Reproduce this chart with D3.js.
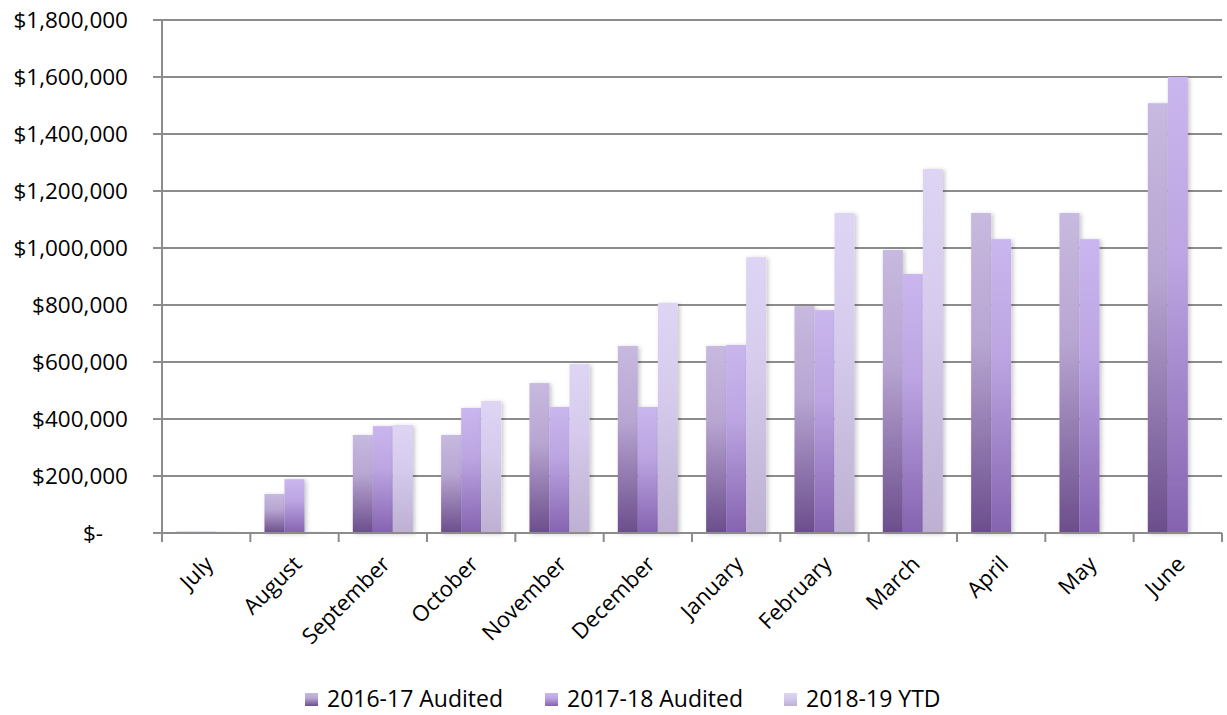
<!DOCTYPE html>
<html>
<head>
<meta charset="utf-8">
<script src="https://cdn.jsdelivr.net/npm/d3@7"></script>
<style>
  html, body { margin: 0; padding: 0; background: #fff; }
  svg { display: block; font-family: "Open Sans", Lato, sans-serif; }
</style>
</head>
<body>
<svg id="chart" width="1227" height="715"></svg>
<script>
const months = ["July","August","September","October","November","December","January","February","March","April","May","June"];
const seriesNames = ["2016-17 Audited","2017-18 Audited","2018-19 YTD"];
const s2016 = [5000, 137000, 344000, 344000, 526000, 656000, 656000, 796000, 993000, 1123000, 1123000, 1508000];
const s2017 = [5000, 189000, 375000, 439000, 442000, 442000, 660000, 782000, 909000, 1031000, 1031000, 1600000];
const s2018 = [4000, 4000, 379000, 463000, 593000, 807000, 968000, 1123000, 1277000, null, null, null];
const yTicks = [0, 200000, 400000, 600000, 800000, 1000000, 1200000, 1400000, 1600000, 1800000];

const allSeries = [s2016, s2017, s2018];
const gradients = [
  {top: "#c7b9df", mid: "#b8a6d2", bottom: "#6b4d8c"},
  {top: "#cab6ee", mid: "#bca5e2", bottom: "#8563b0"},
  {top: "#ded4f4", mid: "#d6cbec", bottom: "#bdb0d2"}
];

const svg = d3.select("#chart");
const mLeft = 162, mRight = 1222, mTop = 20, mBottom = 533;

const x0 = d3.scaleBand().domain(months).range([mLeft, mRight]).paddingInner(0.32).paddingOuter(0.16);
const x1 = d3.scaleBand().domain(d3.range(3)).range([0, x0.bandwidth()]);
const y = d3.scaleLinear().domain([0, 1800000]).range([mBottom, mTop]);

const defs = svg.append("defs");
gradients.forEach((g, i) => {
  const lg = defs.append("linearGradient").attr("id", "g" + i)
    .attr("x1", 0).attr("y1", 0).attr("x2", 0).attr("y2", 1);
  lg.append("stop").attr("offset", "0").attr("stop-color", g.top);
  lg.append("stop").attr("offset", "0.4").attr("stop-color", g.mid);
  lg.append("stop").attr("offset", "1").attr("stop-color", g.bottom);
});
const f = defs.append("filter").attr("id", "shadow").attr("x", "-20%").attr("y", "-5%").attr("width", "160%").attr("height", "115%");
f.append("feDropShadow").attr("dx", 2).attr("dy", 1).attr("stdDeviation", 2)
  .attr("flood-color", "#000").attr("flood-opacity", 0.22);

// gridlines
const step = x0.step();
svg.append("g").selectAll("line").data(yTicks).join("line")
  .attr("x1", mLeft - 9).attr("x2", mRight)
  .attr("y1", d => y(d)).attr("y2", d => y(d))
  .attr("stroke", "#8c8c8c").attr("stroke-width", 2);

// y labels
svg.append("g").selectAll("text").data(yTicks).join("text")
  .attr("x", d => d === 0 ? 103 : 128)
  .attr("y", d => y(d))
  .attr("dy", "0.35em")
  .attr("text-anchor", "end")
  .attr("font-size", 22.5)
  .attr("fill", "#000")
  .text(d => d === 0 ? "$-" : "$" + d3.format(",")(d));

// bars
const groups = svg.append("g").selectAll("g").data(months).join("g")
  .attr("transform", d => `translate(${x0(d)},0)`);
groups.selectAll("rect")
  .data((m, mi) => allSeries.map((s, si) => ({si, v: s[mi]})).filter(d => d.v != null))
  .join("rect")
  .attr("x", d => x1(d.si))
  .attr("width", x1.bandwidth())
  .attr("y", d => y(d.v))
  .attr("height", d => Math.max(1, y(0) - y(d.v)))
  .attr("fill", d => `url(#g${d.si})`)
  .attr("filter", "url(#shadow)");

// axes lines
svg.append("line").attr("x1", mLeft).attr("x2", mLeft).attr("y1", mTop).attr("y2", mBottom + 1)
  .attr("stroke", "#8c8c8c").attr("stroke-width", 2);
svg.append("line").attr("x1", mLeft - 9).attr("x2", mRight).attr("y1", mBottom).attr("y2", mBottom)
  .attr("stroke", "#8c8c8c").attr("stroke-width", 2);

// x ticks at band boundaries
const boundaries = months.map(m => x0(m) - step * x0.paddingInner() / 2).concat([mRight]);
svg.append("g").selectAll("line").data(boundaries).join("line")
  .attr("x1", d => d).attr("x2", d => d).attr("y1", mBottom).attr("y2", mBottom + 9)
  .attr("stroke", "#8c8c8c").attr("stroke-width", 2);

// x labels
svg.append("g").selectAll("text").data(months).join("text")
  .attr("transform", d => `translate(${x0(d) + x0.bandwidth() / 2 + 3},${mBottom + 27}) rotate(-45)`)
  .attr("text-anchor", "end")
  .attr("dy", "0.35em")
  .attr("font-size", 22)
  .attr("fill", "#000")
  .text(d => d);

// legend
const legendX = [305, 545, 784];
const lgd = svg.append("g");
seriesNames.forEach((n, i) => {
  lgd.append("rect").attr("x", legendX[i]).attr("y", 693).attr("width", 13).attr("height", 13)
    .attr("fill", `url(#g${i})`);
  lgd.append("text").attr("x", legendX[i] + 22).attr("y", 699).attr("dy", "0.35em")
    .attr("font-size", 23).attr("fill", "#000").text(n);
});
</script>
</body>
</html>
